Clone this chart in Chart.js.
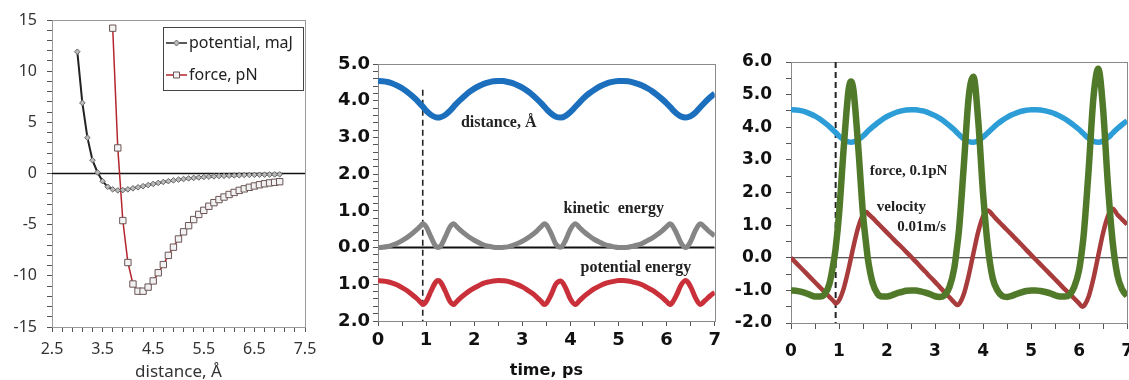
<!DOCTYPE html>
<html>
<head>
<meta charset="utf-8">
<script src="https://cdn.jsdelivr.net/npm/chart.js@4.4.1/dist/chart.umd.min.js"></script>
<style>
  html, body { margin: 0; padding: 0; background: #fff; width: 1129px; height: 380px; overflow: hidden; }
  .panel { position: absolute; top: 0; }
</style>
</head>
<body>
<div class="panel" style="left:0px"><canvas id="ljChart" width="330" height="390"></canvas></div>
<div class="panel" style="left:330px"><canvas id="energyChart" width="395" height="390"></canvas></div>
<div class="panel" style="left:725px"><canvas id="forceChart" width="420" height="390"></canvas></div>
<script>
// ---- left panel: potential / force vs distance ----
const ljDist = [3.0, 3.1, 3.2, 3.3, 3.4, 3.5, 3.6, 3.7, 3.8, 3.9, 4.0, 4.1, 4.2, 4.3, 4.4, 4.5, 4.6, 4.7, 4.8, 4.9,
  5.0, 5.1, 5.2, 5.3, 5.4, 5.5, 5.6, 5.7, 5.8, 5.9, 6.0, 6.1, 6.2, 6.3, 6.4, 6.5, 6.6, 6.7, 6.8, 6.9, 7.0];
const ljPotential = [11.9, 6.9, 3.5, 1.3, 0.1, -0.75, -1.3, -1.55, -1.65, -1.62, -1.55, -1.45, -1.35, -1.24, -1.13,
  -1.02, -0.92, -0.83, -0.75, -0.67, -0.6, -0.54, -0.48, -0.43, -0.39, -0.35, -0.31, -0.28, -0.25, -0.23,
  -0.21, -0.19, -0.17, -0.15, -0.14, -0.13, -0.12, -0.11, -0.1, -0.09, -0.08];
const forceDist = [3.7, 3.8, 3.9, 4.0, 4.1, 4.2, 4.3, 4.4, 4.5, 4.6, 4.7, 4.8, 4.9, 5.0, 5.1, 5.2, 5.3, 5.4, 5.5,
  5.6, 5.7, 5.8, 5.9, 6.0, 6.1, 6.2, 6.3, 6.4, 6.5, 6.6, 6.7, 6.8, 6.9, 7.0];
const ljForce = [14.2, 2.5, -4.6, -8.7, -10.8, -11.5, -11.5, -11.1, -10.5, -9.7, -8.9, -8.0, -7.2, -6.4, -5.7, -5.1,
  -4.5, -4.0, -3.6, -3.2, -2.85, -2.55, -2.3, -2.05, -1.85, -1.65, -1.5, -1.35, -1.22, -1.1, -1.0, -0.92, -0.86, -0.8];
const ljNames = ['potential, maJ', 'force, pN'];
const ljTicksX = [2.5, 3.5, 4.5, 5.5, 6.5, 7.5];
const ljTicksY = [-15, -10, -5, 0, 5, 10, 15];

// ---- middle and right panels: trajectory vs time ----
const time = [0, 0.1, 0.2, 0.3, 0.4, 0.5, 0.6, 0.7, 0.8, 0.9, 0.93, 1.0, 1.1, 1.2, 1.25, 1.3, 1.4, 1.5, 1.575,
  1.6, 1.7, 1.8, 1.9, 2.0, 2.1, 2.2, 2.3, 2.4, 2.5, 2.6, 2.7, 2.8, 2.9, 3.0, 3.1, 3.2, 3.3, 3.4, 3.455,
  3.5, 3.6, 3.7, 3.8, 3.9, 4.0, 4.1, 4.2, 4.3, 4.4, 4.5, 4.6, 4.7, 4.8, 4.9, 5.0, 5.1, 5.2, 5.3, 5.4, 5.5,
  5.6, 5.7, 5.8, 5.9, 6.0, 6.065, 6.1, 6.2, 6.3, 6.4, 6.5, 6.6, 6.7, 6.8, 6.9, 7.0];
const distance = [4.54, 4.53, 4.51, 4.47, 4.41, 4.34, 4.25, 4.14, 4.02, 3.88, 3.84, 3.73, 3.615, 3.55, 3.54, 3.55,
  3.615, 3.73, 3.84, 3.88, 4.01, 4.13, 4.24, 4.33, 4.40, 4.46, 4.50, 4.53, 4.54, 4.535, 4.51, 4.48, 4.42,
  4.355, 4.27, 4.17, 4.05, 3.92, 3.84, 3.775, 3.647, 3.562, 3.54, 3.589, 3.694, 3.83, 3.97, 4.10, 4.21, 4.30,
  4.38, 4.44, 4.49, 4.52, 4.54, 4.54, 4.53, 4.50, 4.46, 4.41, 4.34, 4.26, 4.16, 4.05, 3.93, 3.84, 3.79, 3.66,
  3.57, 3.54, 3.58, 3.68, 3.82, 3.96, 4.085, 4.195];
const kinetic = [0, 0.01, 0.03, 0.07, 0.12, 0.19, 0.27, 0.37, 0.48, 0.61, 0.65, 0.57, 0.29, 0.04, 0, 0.04, 0.29,
  0.57, 0.65, 0.62, 0.49, 0.38, 0.28, 0.20, 0.13, 0.07, 0.035, 0.01, 0, 0.005, 0.02, 0.06, 0.11, 0.17, 0.25,
  0.34, 0.45, 0.58, 0.65, 0.62, 0.38, 0.09, 0.01, 0.20, 0.50, 0.65, 0.53, 0.41, 0.31, 0.22, 0.15, 0.09, 0.05,
  0.02, 0, 0, 0.01, 0.04, 0.07, 0.12, 0.19, 0.26, 0.35, 0.45, 0.57, 0.65, 0.63, 0.41, 0.12, 0, 0.17, 0.47,
  0.65, 0.54, 0.42, 0.32];
const potential = [-0.90, -0.91, -0.93, -0.97, -1.02, -1.09, -1.17, -1.27, -1.38, -1.51, -1.55, -1.47, -1.19,
  -0.94, -0.90, -0.94, -1.19, -1.47, -1.55, -1.52, -1.39, -1.28, -1.18, -1.10, -1.03, -0.97, -0.935, -0.91,
  -0.90, -0.905, -0.92, -0.96, -1.01, -1.07, -1.15, -1.24, -1.35, -1.48, -1.55, -1.52, -1.28, -0.99, -0.91,
  -1.10, -1.40, -1.55, -1.43, -1.31, -1.21, -1.12, -1.05, -0.99, -0.95, -0.92, -0.90, -0.90, -0.91, -0.94,
  -0.97, -1.02, -1.09, -1.16, -1.25, -1.35, -1.47, -1.55, -1.53, -1.31, -1.02, -0.90, -1.07, -1.37, -1.55,
  -1.44, -1.32, -1.22];
const velocity = [0, -0.15, -0.30, -0.45, -0.60, -0.75, -0.90, -1.05, -1.20, -1.35, -1.40, -1.31, -0.93, -0.34, 0,
  0.34, 0.93, 1.31, 1.40, 1.36, 1.22, 1.07, 0.92, 0.77, 0.62, 0.47, 0.33, 0.18, 0.03, -0.12, -0.28, -0.43,
  -0.59, -0.74, -0.90, -1.06, -1.21, -1.37, -1.45, -1.42, -1.11, -0.55, 0.14, 0.80, 1.27, 1.45, 1.31, 1.15,
  1.00, 0.85, 0.70, 0.55, 0.40, 0.24, 0.09, -0.06, -0.21, -0.36, -0.51, -0.66, -0.81, -0.96, -1.10, -1.25,
  -1.40, -1.50, -1.48, -1.19, -0.63, 0.07, 0.76, 1.27, 1.50, 1.32, 1.17, 1.02];
const force = [-1.00, -1.01, -1.04, -1.08, -1.14, -1.19, -1.19, -1.12, -0.80, -0.02, 0.29, 1.33, 3.41, 5.15, 5.40,
  5.15, 3.41, 1.33, 0.29, -0.02, -0.77, -1.10, -1.19, -1.19, -1.15, -1.09, -1.05, -1.01, -1.00, -1.00, -1.03,
  -1.07, -1.12, -1.18, -1.20, -1.15, -0.90, -0.32, 0.29, 0.87, 2.84, 4.91, 5.55, 4.19, 1.98, 0.34, -0.62,
  -1.00, -1.17, -1.20, -1.17, -1.11, -1.06, -1.02, -1.00, -1.00, -1.02, -1.05, -1.09, -1.15, -1.19, -1.19,
  -1.14, -0.89, -0.38, 0.29, 0.76, 2.71, 4.92, 5.79, 4.56, 2.25, 0.48, -0.55, -0.98, -1.17];
const timeTicks = [0, 1, 2, 3, 4, 5, 6, 7];
const energyTicks = [-2, -1, 0, 1, 2, 3, 4, 5];
const forceTicks = [-2, -1, 0, 1, 2, 3, 4, 5, 6];
const markT = [0.93, 0.93];
const energyMarkY = [4.3, -2.0];
const forceMarkY = [6.0, -2.0];

function pts(xs, ys) {
  return xs.map((x, i) => ({ x: x, y: ys[i] }));
}
function stepTicks(min, max, step) {
  const out = [];
  const n = Math.round((max - min) / step);
  for (let i = 0; i <= n; i++) out.push({ value: +(min + i * step).toFixed(4) });
  return out;
}
function isMajor(list, v) {
  return list.some(m => Math.abs(m - v) < 1e-6);
}

// thin box round the plot area
const frame = {
  id: 'frame',
  beforeDatasetsDraw(chart, args, opts) {
    const a = chart.chartArea, ctx = chart.ctx;
    ctx.save();
    ctx.strokeStyle = opts.color || '#999';
    ctx.lineWidth = 1;
    ctx.strokeRect(Math.round(a.left) + 0.5, Math.round(a.top) + 0.5,
      Math.round(a.right - a.left), Math.round(a.bottom - a.top));
    ctx.restore();
  }
};

// free text labels placed in data units
function notes(items, font) {
  return {
    id: 'notes',
    afterDatasetsDraw(chart) {
      const ctx = chart.ctx, xs = chart.scales.x, ys = chart.scales.y;
      ctx.save();
      ctx.font = font;
      ctx.fillStyle = '#222';
      ctx.textAlign = 'center';
      ctx.textBaseline = 'middle';
      items.forEach(n => ctx.fillText(n.text, xs.getPixelForValue(n.x), ys.getPixelForValue(n.y)));
      ctx.restore();
    }
  };
}

// excel-like legend box in the top right corner
const ljLegend = {
  id: 'ljLegend',
  afterDraw(chart) {
    const ctx = chart.ctx;
    const bx = 163, by = 27, bw = 140, bh = 63;
    ctx.save();
    ctx.fillStyle = '#fff';
    ctx.fillRect(bx, by, bw, bh);
    ctx.strokeStyle = '#444';
    ctx.lineWidth = 1;
    ctx.strokeRect(bx + 0.5, by + 0.5, bw, bh);
    chart.data.datasets.slice(0, 2).forEach((ds, i) => {
      const y = by + 16 + i * 32;
      ctx.strokeStyle = ds.borderColor;
      ctx.lineWidth = 1.5;
      ctx.beginPath();
      ctx.moveTo(bx + 3, y);
      ctx.lineTo(bx + 24, y);
      ctx.stroke();
      ctx.fillStyle = ds.pointBackgroundColor;
      ctx.strokeStyle = ds.pointBorderColor;
      ctx.lineWidth = 1;
      ctx.beginPath();
      if (ds.pointStyle === 'rect') {
        ctx.rect(bx + 10.5, y - 3, 6, 6);
      } else {
        ctx.moveTo(bx + 13.5, y - 3); ctx.lineTo(bx + 16.5, y); ctx.lineTo(bx + 13.5, y + 3); ctx.lineTo(bx + 10.5, y);
        ctx.closePath();
      }
      ctx.fill();
      ctx.stroke();
      ctx.fillStyle = '#222';
      ctx.font = '16px "Noto Sans"';
      ctx.textBaseline = 'middle';
      ctx.fillText(ds.label, bx + 26, y);
    });
    ctx.restore();
  }
};

const sansFont = { family: '"Noto Sans", sans-serif', size: 16 };
const boldFont = { family: '"DejaVu Sans", sans-serif', size: 17, weight: 'bold' };
const boldFontBig = { family: '"DejaVu Sans", sans-serif', size: 18, weight: 'bold' };

// ---------- left chart ----------
new Chart(document.getElementById('ljChart'), {
  type: 'scatter',
  data: {
    datasets: [
      {
        label: ljNames[0], data: pts(ljDist, ljPotential), showLine: true, tension: 0,
        borderColor: '#222', borderWidth: 2, pointStyle: 'rectRot', pointRadius: 2.8,
        pointBackgroundColor: '#bbb', pointBorderColor: '#666', pointBorderWidth: 1
      },
      {
        label: ljNames[1], data: pts(forceDist, ljForce), showLine: true, tension: 0,
        borderColor: '#b3262e', borderWidth: 1.5, pointStyle: 'rect', pointRadius: 4.5,
        pointBackgroundColor: '#f2f2f2', pointBorderColor: '#6b5555', pointBorderWidth: 1
      },
      {
        label: 'zero', data: pts([2.5, 7.5], [0, 0]), showLine: true,
        borderColor: '#111', borderWidth: 1.5, pointRadius: 0
      }
    ]
  },
  options: {
    responsive: false, animation: false,
    layout: { padding: { left: 0, top: 20, right: 25, bottom: 0 } },
    plugins: { legend: { display: false }, tooltip: { enabled: false }, frame: { color: '#9a9a9a' } },
    scales: {
      x: {
        type: 'linear', min: 2.5, max: 7.5,
        afterBuildTicks: s => { s.ticks = stepTicks(2.5, 7.5, 0.2); },
        afterFit: s => { s.height = 63; },
        ticks: {
          autoSkip: false, maxRotation: 0, minRotation: 0, padding: 8, color: '#333', font: sansFont,
          callback: v => isMajor(ljTicksX, v) ? v.toFixed(1) : ''
        },
        grid: { drawOnChartArea: false, tickLength: 5, tickColor: '#555' },
        border: { color: '#555' },
        title: { display: true, text: 'distance, Å', color: '#333', font: { family: '"Noto Sans", sans-serif', size: 17 }, padding: { top: 0, bottom: 8 } }
      },
      y: {
        type: 'linear', min: -15, max: 15,
        afterBuildTicks: s => { s.ticks = stepTicks(-15, 15, 1); },
        afterFit: s => { s.width = 52; },
        ticks: {
          autoSkip: false, padding: 10, color: '#333', font: sansFont,
          callback: v => isMajor(ljTicksY, v) ? String(Math.round(v)) : ''
        },
        grid: { drawOnChartArea: false, tickLength: 5, tickColor: '#555' },
        border: { color: '#555' }
      }
    }
  },
  plugins: [frame, ljLegend]
});

// ---------- middle chart ----------
new Chart(document.getElementById('energyChart'), {
  type: 'scatter',
  data: {
    datasets: [
      { label: 'distance', data: pts(time, distance), showLine: true, cubicInterpolationMode: 'monotone',
        borderColor: '#1b6fbd', borderWidth: 6, pointRadius: 0 },
      { label: 'kinetic energy', data: pts(time, kinetic), showLine: true, cubicInterpolationMode: 'monotone',
        borderColor: '#858585', borderWidth: 5, pointRadius: 0 },
      { label: 'potential energy', data: pts(time, potential), showLine: true, cubicInterpolationMode: 'monotone',
        borderColor: '#c9303a', borderWidth: 5, pointRadius: 0 },
      { label: 'zero', data: pts([0, 7], [0, 0]), showLine: true, borderColor: '#111', borderWidth: 2, pointRadius: 0 },
      { label: 'mark', data: pts(markT, energyMarkY), showLine: true, borderColor: '#222', borderWidth: 1.6,
        borderDash: [6, 4], pointRadius: 0 }
    ]
  },
  options: {
    responsive: false, animation: false,
    layout: { padding: { left: 0, top: 64, right: 10, bottom: 0 } },
    plugins: { legend: { display: false }, tooltip: { enabled: false }, frame: { color: '#8a8a8a' } },
    scales: {
      x: {
        type: 'linear', min: 0, max: 7,
        afterBuildTicks: s => { s.ticks = stepTicks(0, 7, 0.5); },
        afterFit: s => { s.height = 69; },
        ticks: {
          autoSkip: false, maxRotation: 0, minRotation: 0, padding: 4, color: '#111', font: boldFontBig,
          callback: v => isMajor(timeTicks, v) ? String(Math.round(v)) : ''
        },
        grid: { drawOnChartArea: false, tickLength: 5, tickColor: '#555' },
        border: { color: '#555' },
        title: { display: true, text: 'time, ps', color: '#111', font: { family: '"DejaVu Sans", sans-serif', size: 16, weight: 'bold' }, padding: { top: 0, bottom: 10 } }
      },
      y: {
        type: 'linear', min: -2, max: 5,
        afterBuildTicks: s => { s.ticks = stepTicks(-2, 5, 0.2); },
        afterFit: s => { s.width = 48; },
        ticks: {
          autoSkip: false, padding: 3, color: '#111', font: boldFontBig,
          callback: v => isMajor(energyTicks, v) ? Math.abs(v).toFixed(1) : ''
        },
        grid: { drawOnChartArea: false, tickLength: 5, tickColor: '#555' },
        border: { color: '#555' }
      }
    }
  },
  plugins: [frame, notes([
    { text: 'distance, Å', x: 2.51, y: 3.4 },
    { text: 'kinetic  energy', x: 4.9, y: 1.06 },
    { text: 'potential energy', x: 5.36, y: -0.54 }
  ], 'bold 16px "Liberation Serif", serif')]
});

// ---------- right chart ----------
new Chart(document.getElementById('forceChart'), {
  type: 'scatter',
  data: {
    datasets: [
      { label: 'force', data: pts(time, force), showLine: true, cubicInterpolationMode: 'monotone',
        borderColor: '#50792a', borderWidth: 6.5, pointRadius: 0 },
      { label: 'velocity', data: pts(time, velocity), showLine: true, cubicInterpolationMode: 'monotone',
        borderColor: '#a83b3b', borderWidth: 4.5, pointRadius: 0 },
      { label: 'distance', data: pts(time, distance), showLine: true, cubicInterpolationMode: 'monotone',
        borderColor: '#2c9dd7', borderWidth: 5.5, pointRadius: 0 },
      { label: 'zero', data: pts([0, 7], [0, 0]), showLine: true, borderColor: '#222', borderWidth: 1.2, pointRadius: 0 },
      { label: 'mark', data: pts(markT, forceMarkY), showLine: true, borderColor: '#222', borderWidth: 2,
        borderDash: [6, 4], pointRadius: 0 }
    ]
  },
  options: {
    responsive: false, animation: false,
    layout: { padding: { left: 0, top: 62, right: 14, bottom: 0 } },
    plugins: { legend: { display: false }, tooltip: { enabled: false }, frame: { color: '#8a8a8a' } },
    scales: {
      x: {
        type: 'linear', min: 0, max: 7,
        afterBuildTicks: s => { s.ticks = stepTicks(0, 7, 0.5); },
        afterFit: s => { s.height = 67; },
        ticks: {
          autoSkip: false, maxRotation: 0, minRotation: 0, padding: 12, color: '#111', font: boldFont,
          callback: v => isMajor(timeTicks, v) ? String(Math.round(v)) : ''
        },
        grid: { drawOnChartArea: false, tickLength: 6, tickColor: '#555' },
        border: { color: '#555' }
      },
      y: {
        type: 'linear', min: -2, max: 6,
        afterBuildTicks: s => { s.ticks = stepTicks(-2, 6, 0.5); },
        afterFit: s => { s.width = 66; },
        ticks: {
          autoSkip: false, padding: 14, color: '#111', font: boldFont,
          callback: v => isMajor(forceTicks, v) ? v.toFixed(1) : ''
        },
        grid: { drawOnChartArea: false, tickLength: 5, tickColor: '#555' },
        border: { color: '#555' }
      }
    }
  },
  plugins: [frame, notes([
    { text: 'force, 0.1pN', x: 2.45, y: 2.67 },
    { text: 'velocity', x: 2.3, y: 1.56 },
    { text: '0.01m/s', x: 2.72, y: 0.95 }
  ], 'bold 15px "Liberation Serif", serif')]
});
</script>
</body>
</html>
